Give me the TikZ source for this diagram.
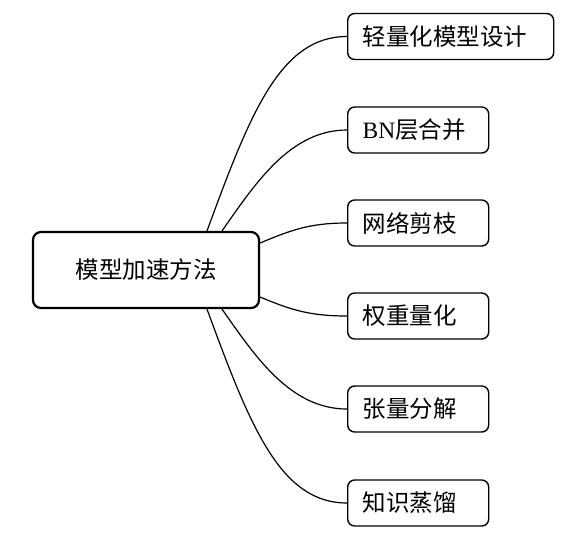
\documentclass[tikz,border=0pt]{standalone}
\usepackage{fontspec}
\setmainfont{Liberation Serif}
\newfontfamily\cjk{Noto Sans CJK SC}
\usetikzlibrary{positioning}
\newcommand{\boxfont}{\cjk\fontsize{23.5}{28}\selectfont}

\begin{document}
\begin{tikzpicture}[
  x=1pt, y=-1pt,
  root/.style={draw, line width=2.2pt, rounded corners=8pt, font=\boxfont,
               minimum width=226pt, minimum height=76pt, inner sep=0pt},
  leaf/.style={draw, line width=1.4pt, rounded corners=7pt, font=\boxfont,
               anchor=west, align=left, text width=111pt, inner xsep=15pt,
               inner ysep=0pt, minimum height=46pt},
  br/.style={draw, line width=1.2pt},
]
\useasboundingbox (0,0) rectangle (585,539);

\node[root] (root) at (146,270) {模型加速方法};

\node[leaf, text width=176pt] (l1) at (347,36.5) {轻量化模型设计};
\node[leaf] (l2) at (347,130) {{\rmfamily BN}层合并};
\node[leaf] (l3) at (347,223) {网络剪枝};
\node[leaf] (l4) at (347,316) {权重量化};
\node[leaf] (l5) at (347,409) {张量分解};
\node[leaf] (l6) at (347,503) {知识蒸馏};

\draw[br] ([xshift=61pt]root.north) .. controls +(43,-117) and +(-67,0) .. (l1.west);
\draw[br] ([xshift=76pt]root.north) .. controls +(33,-47) and +(-57,0) .. (l2.west);
\draw[br] ([yshift=27pt]root.east) .. controls +(31,-13) and +(-37,0) .. (l3.west);
\draw[br] ([yshift=-27pt]root.east) .. controls +(31,13) and +(-37,0) .. (l4.west);
\draw[br] ([xshift=76pt]root.south) .. controls +(33,47) and +(-57,0) .. (l5.west);
\draw[br] ([xshift=61pt]root.south) .. controls +(43,117) and +(-67,0) .. (l6.west);
\end{tikzpicture}
\end{document}
